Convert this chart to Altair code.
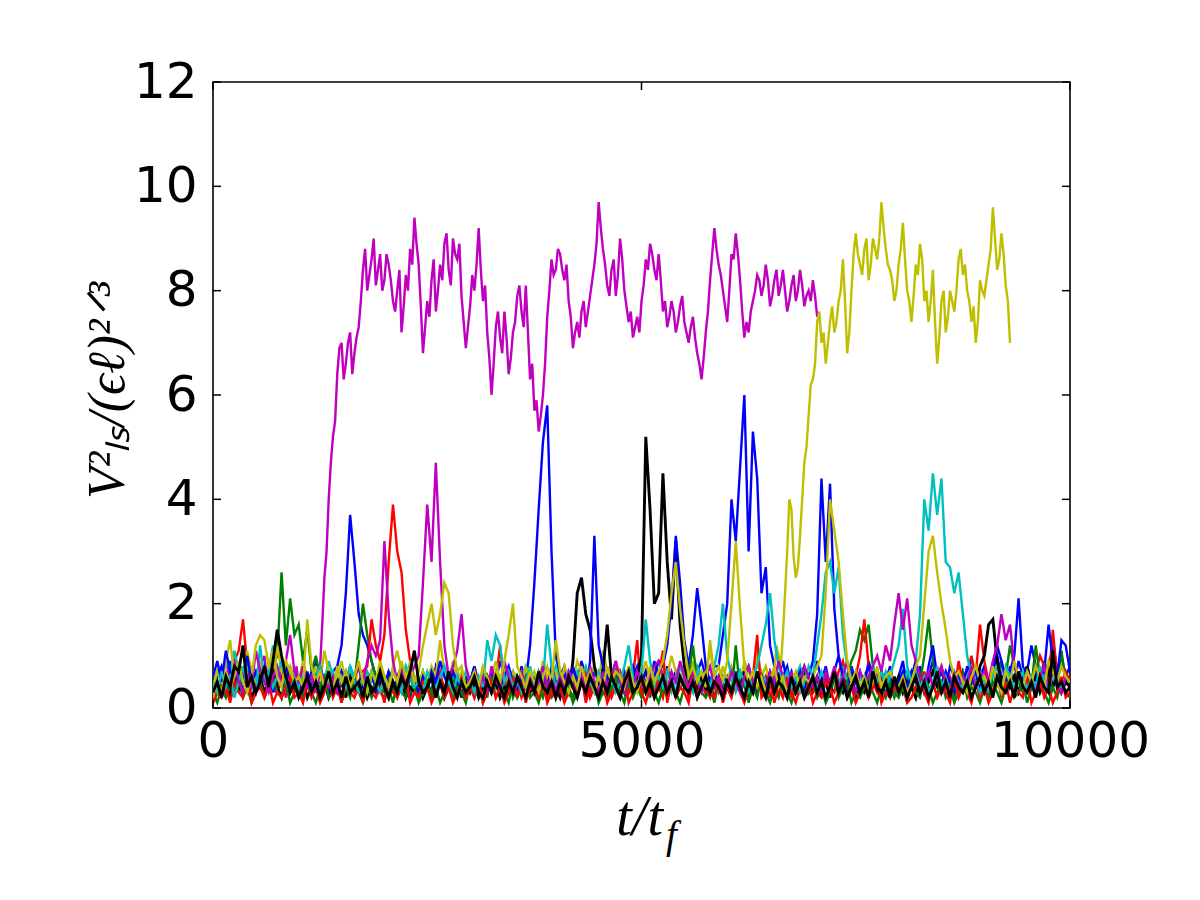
import altair as alt
import pandas as pd

# time step between successive samples (t / t_f)
T_STEP = 50

# values are V^2/(eps l)^(2/3) in tenths at t = 0, 50, 100, ...
blue_1 = [3,6,8,5,9,4,7,3,5,8,4,6,2,5,7,3,6,4,8,5,
          3,6,4,7,9,5,6,4,7,8,12,22,37,28,18,14,12,9,6,5,
          4,7,3,6,8,5,2,6,4,7,5,3,8,6,4,5,7,3,6,4,
          5,8,4,6,3,7,5,9,6,4,7,3,8,5,12,24,38,51,58,30,
          10,6,8,4,7,5,9,6,3,7,5,8,4,6,9,5,7,3,6,8,
          4,7,5,9,6,3,8,5,7,4,6,8,5,7,9,6,4,8,8,14,
          20,40,32,46,60,30,53,44,22,27,12,8,6,9,5,7,4,6,8,5,
          6,9,5,8,4,7,10,6,3,8,5,7,4,9,6,3,7,5,8,4,
          6,9,4,7,5,8,3,6,9,5,7,4,8,6,3,7,5,9,4,6,
          8,5,7,10,6,4,8,5,9,6,7,12,8,5,9,6,13,7,10,6,
          8]
green_1 = [2,5,3,7,4,6,3,8,5,4,7,6,3,5,8,10,26,12,21,14,
           16,9,15,7,10,6,4,7,5,3,6,4,8,5,12,20,14,9,6,4,
           3,6,4,2,5,7,3,5,2,6,4,3,7,5,2,4,6,3,5,2,
           4,6,3,5,2,7,4,5,3,6,2,4,7,5,3,6,4,2,5,3,
           5,3,6,4,2,5,7,3,6,4,5,3,2,6,4,7,5,3,6,4,
           3,5,2,6,4,3,7,5,2,4,6,3,5,8,4,3,6,2,5,4,
           6,3,5,7,4,2,6,3,5,4,7,3,5,2,6,4,3,5,7,4,
           3,5,2,6,4,7,5,3,6,9,11,15,13,16,8,5,3,6,4,2,
           5,3,6,4,7,5,10,17,9,5,3,6,4,2,5,7,3,5,4,6,
           3,5,7,4,9,6,12,8,5,3,6,4,7,5,3,6,8,4,11,5,
           4]
red_1 = [1,3,5,2,6,9,11,17,8,6,3,5,2,7,4,3,6,2,5,3,
         4,2,6,3,5,2,4,7,3,5,2,6,4,3,5,7,8,17,12,9,
         14,28,39,30,26,15,9,5,3,6,4,2,5,7,3,5,2,4,6,3,
         5,2,6,4,3,7,5,12,4,6,3,5,2,4,7,3,5,6,2,4,
         3,5,2,6,4,3,5,7,2,4,6,3,5,2,4,7,5,3,6,13,
         2,5,3,6,4,2,7,5,3,4,6,2,5,3,6,4,2,5,3,6,
         5,3,6,4,2,5,3,7,4,6,2,5,3,4,6,2,5,3,4,6,
         3,5,2,6,4,3,7,9,5,4,6,10,17,8,5,3,6,4,2,5,
         4,6,3,5,2,4,7,3,5,6,8,4,6,3,9,5,7,10,6,16,
         9,5,3,6,4,7,5,3,6,4,8,5,7,10,8,5,15,6,4,7,
         5]
cyan_1 = [4,7,5,9,6,11,7,5,8,4,6,9,5,7,12,6,4,8,5,7,
          5,8,4,6,3,7,5,9,6,4,7,5,8,6,4,3,7,5,6,4,
          6,3,7,5,4,8,6,3,5,7,4,6,3,5,8,4,6,7,3,5,
          4,6,3,8,5,7,4,6,3,5,7,4,6,8,5,3,7,5,4,6,
          8,5,3,6,4,7,5,3,6,8,4,5,7,3,6,4,5,7,4,6,
          5,3,7,4,6,8,5,3,6,4,7,5,3,8,6,4,5,7,3,6,
          4,6,3,5,8,4,6,3,7,5,4,6,3,5,7,4,6,8,5,3,
          6,4,7,5,3,6,4,8,5,7,3,6,4,5,8,6,4,7,5,3,
          6,4,7,5,9,18,40,34,45,37,44,28,27,22,26,18,10,6,4,7,
          5,3,6,8,4,7,5,3,6,4,8,5,7,4,6,3,5,7,4,6,
          5]
magenta_1 = [2,4,7,3,6,9,5,8,4,6,3,7,10,5,8,4,6,3,7,5,4,8,6,3,5,
             8,25,40,52,64,70,66,72,68,73,
             84,80,86,81,87,82,85,78,80,72,
             83,88,94,85,68,78,82,76,85,89,
             84,90,86,79,69,77,80,92,78,72,
             60,73,71,76,64,72,79,76,81,63,
             57,53,60,75,86,84,87,82,78,69,
             74,76,73,79,85,97,88,81,84,79,
             90,80,74,71,75,78,86,89,84,87,
             76,73,78,72,77,74,70,75,68,63,
             72,82,92,85,80,74,87,91,82,71,
             72,78,83,79,85,77,82,79,84,76,
             81,78,84,77,80,82,75]
# in-between samples of magenta_1 at t = 25, 75, 125, ...
magenta_1_mid = [5,3,5,8,4,6,7,3,7,4,6,9,6,7,3,7,4,6,5,8,3,6,4,7,6,
                 16,30,47,55,69,63,70,64,71,78,
                 88,83,90,84,80,87,82,76,84,77,
                 80,85,89,77,73,75,86,80,82,91,
                 81,87,89,74,73,83,85,84,81,67,
                 66,76,68,71,67,74,81,73,72,66,
                 59,56,66,80,83,88,84,85,75,72,
                 71,78,76,82,89,92,85,79,86,83,
                 86,77,76,73,72,81,84,87,82,82,
                 78,75,76,74,79,72,73,71,66,67,
                 76,87,88,83,77,80,86,87,76,74,
                 76,80,82,81,82,79,84,81,80,78,
                 83,80,81,79,78,79]
yellow_1 = [4,7,5,9,13,6,8,5,11,7,4,9,6,8,5,12,7,4,8,6,
            5,9,6,4,8,5,11,7,4,6,9,5,7,4,8,6,3,7,5,9,
            6,4,8,11,7,5,9,6,4,7,5,8,6,13,7,4,9,5,7,6,
            4,8,5,7,3,6,9,5,8,4,7,6,4,8,5,7,4,9,6,5,
            7,4,8,6,5,9,7,4,6,8,5,11,7,4,9,6,5,8,4,7,
            6,9,5,7,4,8,6,10,7,5,8,4,9,6,5,7,11,6,4,8,
            5,8,6,4,9,7,5,11,6,8,5,7,
            10,14,30,38,25,33,47,56,63,74,
            70,66,74,72,78,86,68,80,91,85,
            88,82,90,86,97,88,84,78,85,93,
            80,74,85,89,78,74,84,66,78,72,
            80,76,86,83,80,74,70,82,79,85,
            96,84,91,81,70]
# in-between samples of yellow_1 from t = 6575 on (t = 6575, 6625, ...)
YELLOW_1_MID_START = 131
yellow_1_mid = [12,8,22,40,29,27,40,50,62,66,
                76,72,70,77,74,80,78,72,87,87,
                83,90,85,88,90,92,85,82,80,88,
                86,78,79,83,86,80,78,74,71,80,
                75,78,80,88,85,78,77,74,80,82,
                88,90,86,87,78]
black_1 = [2,4,3,5,2,6,4,3,5,2,4,6,3,5,7,4,2,5,3,4,
           3,5,2,4,6,3,5,2,4,3,5,2,6,4,3,5,2,4,3,5,
           4,2,5,3,6,2,4,3,5,2,4,6,3,5,2,4,3,6,2,5,
           3,5,2,4,6,3,5,2,4,3,5,2,6,4,3,5,2,4,3,6,
           4,2,5,3,9,22,25,18,15,8,5,7,16,6,4,5,3,7,4,6,
           10,52,38,20,22,45,28,17,32,16,8,5,7,4,6,3,5,4,6,3,
           5,3,6,4,7,3,5,4,6,2,5,3,6,4,2,5,3,4,6,3,
           4,6,3,5,2,7,4,3,5,6,2,4,3,5,6,4,2,5,3,4,
           6,3,5,4,2,6,3,5,7,4,3,5,2,6,4,3,5,7,4,8,
           10,16,17,9,5,7,4,6,3,5,8,4,6,3,5,7,4,6,3,5,
           4]
blue_2 = [6,9,5,11,7,4,8,6,10,5,7,4,8,6,3,7,5,9,4,6,
          5,3,7,4,6,8,5,3,6,4,7,5,3,6,8,4,5,7,3,6,
          4,7,5,3,6,4,8,5,3,6,4,7,5,9,6,4,7,5,3,6,
          5,8,4,6,3,7,5,4,6,8,5,3,6,4,7,5,3,6,4,8,
          5,3,6,4,8,5,7,3,9,33,12,8,6,4,7,5,3,6,8,4,
          5,7,4,6,9,8,12,20,33,24,13,8,14,23,16,8,5,7,4,6,
          5,3,7,4,6,8,5,3,6,4,7,5,3,6,8,4,5,7,3,6,
          9,18,44,28,43,19,10,6,4,7,5,3,6,8,4,5,7,3,6,4,
          5,7,4,6,9,5,3,8,12,6,4,7,5,3,6,4,8,5,7,4,
          6,4,8,12,9,5,7,10,21,8,6,4,8,5,7,16,9,6,13,12,
          7]
green_2 = [3,1,4,2,5,3,6,2,4,1,3,5,2,4,6,3,2,5,1,3,
           4,2,5,3,1,4,6,2,3,5,1,4,2,6,3,1,4,2,5,3,
           2,4,1,5,3,2,6,4,1,3,5,2,4,1,3,6,2,4,3,1,
           5,2,4,1,3,6,2,4,3,1,5,2,4,6,2,3,1,4,5,2,
           3,5,2,4,1,3,6,2,4,5,1,3,2,4,6,3,1,5,2,4,
           2,4,6,3,1,4,2,5,3,1,4,6,12,5,3,2,4,1,5,3,
           4,2,12,3,5,1,4,2,6,3,1,4,2,5,3,1,4,6,2,3,
           5,2,4,1,3,6,2,4,5,1,3,2,4,6,3,1,4,2,5,3,
           2,4,1,5,3,2,6,4,1,3,5,2,4,1,3,6,2,4,3,1,
           4,2,5,3,1,4,6,2,3,5,1,4,12,6,3,1,4,2,5,3,
           2]
red_2 = [1,3,2,4,1,5,3,2,6,1,3,4,2,5,1,3,2,4,6,2,
         3,1,5,2,4,1,3,6,2,4,1,5,3,2,4,1,6,3,2,4,
         1,5,3,2,4,6,1,3,2,5,4,1,3,6,2,4,1,3,5,2,
         4,2,6,1,3,5,2,4,1,3,6,2,5,1,4,3,2,5,1,3,
         2,4,1,3,5,2,6,1,4,3,2,5,1,3,4,2,6,1,3,5,
         3,1,4,2,6,11,1,5,2,4,3,1,6,2,4,3,3,2,5,1,
         4,2,5,3,1,4,6,14,2,3,5,1,4,2,6,3,1,4,2,5,
         1,3,2,5,4,1,3,6,2,4,1,3,5,2,4,6,1,3,2,4,
         3,5,1,2,4,6,3,1,5,2,4,3,1,6,2,4,3,1,5,2,
         4,1,3,6,2,5,1,4,3,2,6,1,3,5,2,4,1,3,6,2,
         3]
cyan_2 = [5,3,7,4,6,2,5,8,4,6,3,12,5,7,4,6,9,5,3,6,
          4,7,5,3,6,8,4,5,7,3,6,4,8,5,3,6,4,7,5,3,
          6,4,7,5,3,8,6,4,5,3,7,5,4,6,8,5,3,6,4,7,
          5,3,6,4,13,9,14,12,5,7,4,6,3,5,8,4,7,5,16,8,
          4,6,3,7,5,4,6,8,5,3,7,5,4,6,3,5,8,12,6,4,
          7,17,9,5,6,4,7,5,3,8,6,4,5,7,3,6,4,8,12,20,
          10,6,4,7,5,3,6,8,12,16,22,13,8,5,7,4,6,3,5,8,
          6,12,18,26,28,22,27,14,8,5,7,4,6,3,8,5,7,4,6,9,
          12,19,8,5,7,4,6,3,5,8,4,6,3,7,5,4,6,8,5,3,
          6,4,7,5,3,8,6,4,5,7,3,6,4,8,5,3,7,5,4,6,
          5]
magenta_2 = [3,5,2,6,4,8,5,3,6,4,11,7,5,3,6,8,4,9,14,7,
             5,8,4,6,3,7,5,4,6,3,5,7,4,6,8,5,9,12,10,13,
             32,18,9,5,7,4,6,8,10,24,39,28,47,28,12,6,8,11,18,8,
             5,7,4,6,3,8,5,4,9,6,3,5,7,4,6,3,5,8,4,6,
             3,6,4,7,5,2,6,4,8,5,3,7,4,6,9,5,3,6,4,7,
             5,3,6,8,9,6,3,7,5,9,6,4,7,5,3,6,8,4,6,3,
             4,7,5,3,6,8,5,4,6,3,7,5,9,6,4,7,3,5,8,6,
             4,6,3,7,5,8,4,6,9,5,3,7,5,6,8,10,7,12,9,16,
             22,15,21,12,9,6,5,7,4,6,8,5,3,7,4,6,5,8,4,6,
             7,5,9,12,18,13,16,8,6,4,7,5,3,6,8,4,7,5,3,6,
             5]
yellow_2 = [2,5,3,7,4,6,9,5,3,6,12,14,13,8,11,6,4,9,7,5,
            6,4,17,8,5,7,4,6,3,8,5,7,4,6,9,5,3,7,5,8,
            6,4,7,5,9,6,8,5,7,12,16,20,14,18,24,22,12,7,8,4,
            5,7,4,8,6,3,7,5,9,14,20,8,6,4,7,5,3,6,8,5,
            13,7,5,3,6,4,8,5,7,3,6,4,8,5,7,6,4,8,5,3,
            6,4,8,5,7,9,14,22,28,19,12,6,8,5,7,4,13,6,8,5,
            9,20,32,19,8,5,7,4,6,3,5,8,4,6,3,5,7,4,6,5,
            6,8,10,22,40,34,28,18,9,5,7,4,6,3,5,8,4,6,7,5,
            4,6,3,5,8,10,20,30,33,26,20,15,9,6,7,5,3,6,8,5,
            6,4,8,5,3,7,5,9,6,4,7,5,8,6,4,9,7,5,8,6,
            5]
black_2 = [3,5,2,6,4,8,7,12,4,6,3,5,8,4,9,15,10,6,3,5,
           2,4,6,3,5,2,4,7,3,5,2,6,3,4,5,2,6,3,4,7,
           4,2,5,3,6,4,7,11,5,3,4,6,2,5,3,7,4,2,5,3,
           4,6,3,2,5,3,6,4,2,5,3,6,4,2,5,3,7,4,3,5,
           2,5,3,6,4,2,5,3,6,4,2,5,3,6,4,2,5,7,3,4,
           6,3,5,2,4,6,3,5,2,6,4,3,5,2,4,6,3,5,4,2,
           5,3,6,4,2,5,3,7,4,2,6,3,5,4,2,6,3,5,2,4,
           6,3,5,2,4,7,3,5,2,4,6,3,5,2,7,4,3,5,2,6,
           3,5,2,4,6,3,5,2,4,7,3,5,2,6,4,3,5,2,4,6,
           3,5,2,6,4,3,5,2,7,4,3,5,2,6,4,3,11,4,5,3,
           4]

X_TICKS = [0, 5000, 10000]
Y_TICKS = [0, 2, 4, 6, 8, 10, 12]

SERIES = [
    (blue_1, None, 0, "#0000ff"), (green_1, None, 0, "#008000"),
    (red_1, None, 0, "#ff0000"), (cyan_1, None, 0, "#00bfbf"),
    (magenta_1, magenta_1_mid, 0, "#bf00bf"),
    (yellow_1, yellow_1_mid, YELLOW_1_MID_START, "#bfbf00"),
    (black_1, None, 0, "#000000"),
    (blue_2, None, 0, "#0000ff"), (green_2, None, 0, "#008000"),
    (red_2, None, 0, "#ff0000"), (cyan_2, None, 0, "#00bfbf"),
    (magenta_2, None, 0, "#bf00bf"), (yellow_2, None, 0, "#bfbf00"),
    (black_2, None, 0, "#000000"),
]

W, H = 857, 626

xscale = alt.Scale(domain=[0, 10000], nice=False, zero=False)
yscale = alt.Scale(domain=[0, 12], nice=False)

xaxis = alt.Axis(values=X_TICKS, format="d", title=None, ticks=False, tickSize=0,
                 domain=False, grid=False, labelFont="DejaVu Sans", labelFontSize=50,
                 labelColor="black", labelPadding=8, labelOverlap=False,
                 labelFlush=False, labelBound=False)
yaxis = alt.Axis(values=Y_TICKS, format="d", title="V²ₗₛ/(ϵℓ)²ᐟ³", ticks=False, tickSize=0,
                 domain=False, grid=False, labelFont="DejaVu Sans", labelFontSize=50,
                 labelColor="black", labelPadding=16, labelOverlap=False,
                 labelFlush=False, labelBound=False,
                 titleFont="Liberation Serif", titleFontStyle="italic",
                 titleFontWeight="normal", titleFontSize=52, titleColor="black",
                 titleX=-106, titleY=H / 2 - 5, titleAngle=270, titleAlign="center",
                 titleBaseline="middle")

layers = []
for vals, mids, mid_start, color in SERIES:
    ts = [i * T_STEP for i in range(len(vals))]
    vs = [v / 10 for v in vals]
    if mids is not None:
        ts += [(mid_start + k) * T_STEP + T_STEP / 2 for k in range(len(mids))]
        vs += [v / 10 for v in mids]
    df = pd.DataFrame({"t": ts, "v": vs}).sort_values("t")
    sw = 2.9 if color == "#000000" else 2.4
    layers.append(
        alt.Chart(df).mark_line(color=color, strokeWidth=sw, clip=True).encode(
            x=alt.X("t:Q", scale=xscale, axis=xaxis),
            y=alt.Y("v:Q", scale=yscale, axis=yaxis),
            order="t:Q",
        )
    )

ytick_df = pd.DataFrame({"v": Y_TICKS})
xtick_df = pd.DataFrame({"t": X_TICKS})
tick_style = dict(color="black", strokeWidth=1.5)
left_ticks = alt.Chart(ytick_df).mark_rule(**tick_style).encode(
    y=alt.Y("v:Q", scale=yscale, axis=yaxis), x=alt.value(0), x2=alt.value(8))
right_ticks = alt.Chart(ytick_df).mark_rule(**tick_style).encode(
    y=alt.Y("v:Q", scale=yscale, axis=yaxis), x=alt.value(W), x2=alt.value(W - 8))
bottom_ticks = alt.Chart(xtick_df).mark_rule(**tick_style).encode(
    x=alt.X("t:Q", scale=xscale, axis=xaxis), y=alt.value(H), y2=alt.value(H - 8))
top_ticks = alt.Chart(xtick_df).mark_rule(**tick_style).encode(
    x=alt.X("t:Q", scale=xscale, axis=xaxis), y=alt.value(0), y2=alt.value(8))

xt_main = alt.Chart(pd.DataFrame({"s": ["t/t"]})).mark_text(
    font="Liberation Serif", fontStyle="italic", fontSize=56, align="right",
    baseline="alphabetic", color="black").encode(
    text="s:N", x=alt.value(450), y=alt.value(753))
xt_sub = alt.Chart(pd.DataFrame({"s": ["f"]})).mark_text(
    font="Liberation Serif", fontStyle="italic", fontSize=39, align="left",
    baseline="alphabetic", color="black").encode(
    text="s:N", x=alt.value(453), y=alt.value(766))

chart = alt.layer(*layers, left_ticks, right_ticks, bottom_ticks, top_ticks,
                  xt_main, xt_sub).properties(
    width=W, height=H,
    autosize=alt.AutoSizeParams(type="none"),
    padding={"left": 213, "top": 82, "right": 130, "bottom": 192},
    background="white",
).configure_view(stroke="black", strokeWidth=1.6)

chart.save("out.html", embed_options={"renderer": "svg", "actions": False})
